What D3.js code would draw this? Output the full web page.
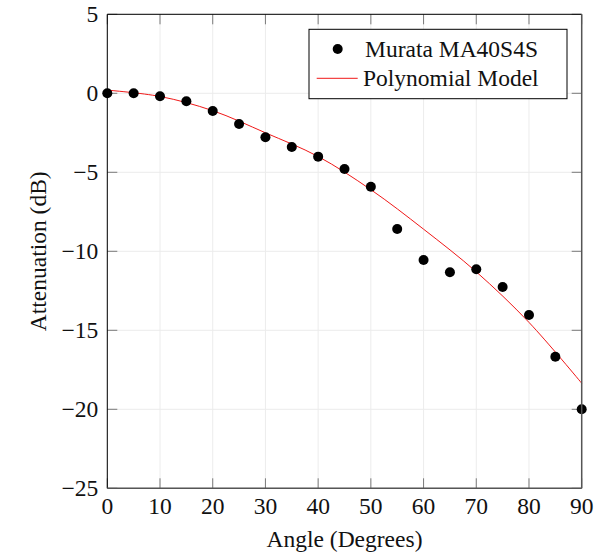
<!DOCTYPE html>
<html>
<head>
<meta charset="utf-8">
<script src="https://cdn.jsdelivr.net/npm/d3@7"></script>
<style>
  body { margin: 0; background: #fff; }
  text { font-family: 'Liberation Serif', 'Times New Roman', serif; fill: #111; }
</style>
</head>
<body>
<div id="chart"></div>
<script>
// Measured attenuation, every 5 degrees
const angles = [0, 5, 10, 15, 20, 25, 30, 35, 40, 45, 50, 55, 60, 65, 70, 75, 80, 85, 90];
const attenuation = [0, 0, -0.19, -0.5, -1.12, -1.94, -2.78, -3.4, -4.01, -4.79, -5.91,
  -8.59, -10.55, -11.33, -11.14, -12.26, -14.03, -16.67, -20.0];

// Polynomial model, every 10 degrees
const modelAngles = [0, 10, 20, 30, 40, 50, 60, 70, 80, 90];
const modelValues = [0.2, -0.2, -1.1, -2.5, -4.0, -6.1, -8.6, -11.3, -14.5, -18.35];

const xTicks = [0, 10, 20, 30, 40, 50, 60, 70, 80, 90];
const yTicks = [5, 0, -5, -10, -15, -20, -25];

const W = 611, H = 554;
const margin = { top: 14.3, right: 29.3, bottom: 65.7, left: 107.3 };
const iw = W - margin.left - margin.right;
const ih = H - margin.top - margin.bottom;
const FONT = 23.5;

const svg = d3.select('#chart').append('svg').attr('width', W).attr('height', H);
const g = svg.append('g').attr('transform', `translate(${margin.left},${margin.top})`);

const x = d3.scaleLinear().domain([0, 90]).range([0, iw]);
const y = d3.scaleLinear().domain([-25, 5]).range([ih, 0]);
const fmt = v => (v < 0 ? '\u2212' + Math.abs(v) : String(v));

// grid
g.selectAll('.gx').data(xTicks).join('line')
  .attr('x1', d => x(d)).attr('x2', d => x(d)).attr('y1', 0).attr('y2', ih)
  .attr('stroke', '#ececec').attr('stroke-width', 1);
g.selectAll('.gy').data(yTicks).join('line')
  .attr('y1', d => y(d)).attr('y2', d => y(d)).attr('x1', 0).attr('x2', iw)
  .attr('stroke', '#ececec').attr('stroke-width', 1);

// inward ticks on all four sides
const tl = 10;
const tickColor = '#7a7a7a';
xTicks.forEach(t => {
  g.append('line').attr('x1', x(t)).attr('x2', x(t)).attr('y1', ih).attr('y2', ih - tl)
    .attr('stroke', tickColor);
  g.append('line').attr('x1', x(t)).attr('x2', x(t)).attr('y1', 0).attr('y2', tl)
    .attr('stroke', tickColor);
});
yTicks.forEach(t => {
  g.append('line').attr('x1', 0).attr('x2', tl).attr('y1', y(t)).attr('y2', y(t))
    .attr('stroke', tickColor);
  g.append('line').attr('x1', iw).attr('x2', iw - tl).attr('y1', y(t)).attr('y2', y(t))
    .attr('stroke', tickColor);
});

// model curve
const line = d3.line()
  .x((d, i) => x(modelAngles[i]))
  .y(d => y(d))
  .curve(d3.curveCatmullRom);
g.append('path').datum(modelValues)
  .attr('d', line)
  .attr('fill', 'none').attr('stroke', '#f01818').attr('stroke-width', 1);

// measured points
g.selectAll('.pt').data(attenuation).join('circle')
  .attr('cx', (d, i) => x(angles[i])).attr('cy', d => y(d))
  .attr('r', 5).attr('fill', '#000');

// frame: left/top black, bottom/right grey
g.append('line').attr('x1', 0).attr('x2', 0).attr('y1', 0).attr('y2', ih).attr('stroke', '#000');
g.append('line').attr('x1', 0).attr('x2', iw).attr('y1', 0).attr('y2', 0).attr('stroke', '#000');
g.append('line').attr('x1', 0).attr('x2', iw).attr('y1', ih).attr('y2', ih).attr('stroke', '#555').attr('stroke-width', 1.5);
g.append('line').attr('x1', iw).attr('x2', iw).attr('y1', 0).attr('y2', ih).attr('stroke', '#555').attr('stroke-width', 1.5);

// tick labels
g.selectAll('.xl').data(xTicks).join('text')
  .attr('x', d => x(d)).attr('y', ih + 26)
  .attr('text-anchor', 'middle').attr('font-size', FONT)
  .text(fmt);
g.selectAll('.yl').data(yTicks).join('text')
  .attr('x', -9).attr('y', d => y(d)).attr('dy', '0.33em')
  .attr('text-anchor', 'end').attr('font-size', FONT)
  .text(fmt);

// axis titles
svg.append('text')
  .attr('x', margin.left + iw / 2).attr('y', 547)
  .attr('text-anchor', 'middle').attr('font-size', FONT)
  .text('Angle (Degrees)');
svg.append('text')
  .attr('transform', `translate(46,${margin.top + ih / 2}) rotate(-90)`)
  .attr('text-anchor', 'middle').attr('font-size', FONT)
  .text('Attenuation (dB)');

// legend
const lg = svg.append('g');
lg.append('rect').attr('x', 309).attr('y', 29.3).attr('width', 258).attr('height', 69.4)
  .attr('fill', '#fff').attr('stroke', '#000').attr('stroke-width', 1);
lg.append('circle').attr('cx', 337.7).attr('cy', 49).attr('r', 5).attr('fill', '#000');
lg.append('line').attr('x1', 316.7).attr('x2', 357.7).attr('y1', 78.3).attr('y2', 78.3)
  .attr('stroke', '#f01818').attr('stroke-width', 1);
lg.append('text').attr('x', 365).attr('y', 49).attr('dy', '0.33em')
  .attr('font-size', FONT).text('Murata MA40S4S');
lg.append('text').attr('x', 363).attr('y', 78.3).attr('dy', '0.33em')
  .attr('font-size', FONT).text('Polynomial Model');
</script>
</body>
</html>
